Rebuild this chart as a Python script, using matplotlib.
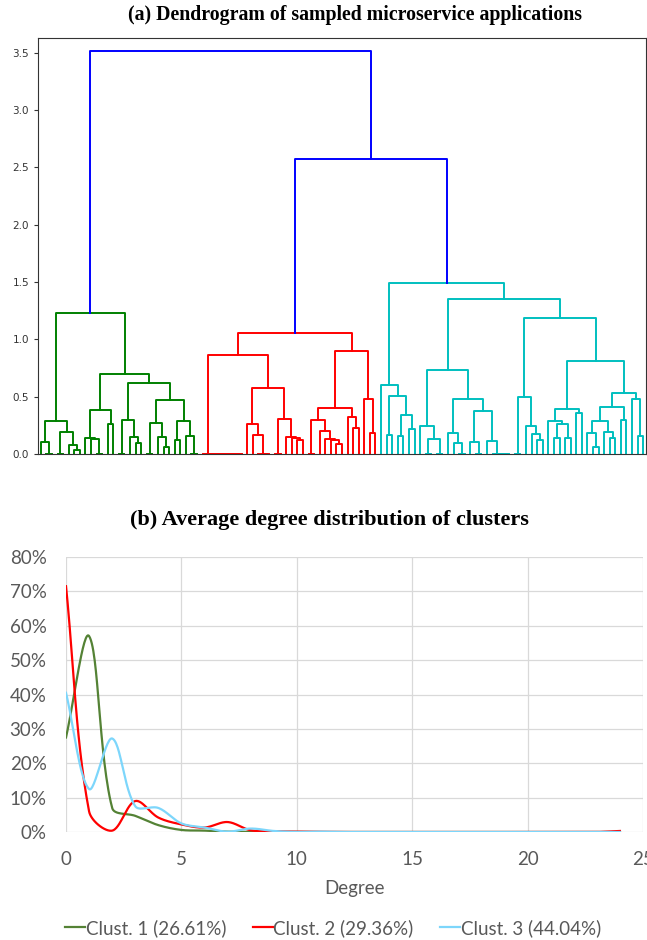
import numpy as np
import matplotlib
matplotlib.use('Agg')
import matplotlib.pyplot as plt
from matplotlib.ticker import PercentFormatter

# ---- (a) dendrogram: merge heights, node = (height, left, right), leaf = o
o = None

green_tree = (1.23,
    (0.29,
        (0.107, o, (0, o, o)),
        (0.19, (0, o, o), (0.076, o, (0.035, o, o)))),
    (0.70,
        (0.38,
            (0.137, o, (0.128, o, (0, o, o))),
            (0.26, o, o)),
        (0.62,
            (0.30, (0, o, o), (0.15, o, (0.10, o, o))),
            (0.47,
                (0.27, (0, o, o), (0.145, o, (0.064, o, o))),
                (0.29, (0.12, o, o), (0.16, o, (0, o, o)))))))

red_tree = (1.06,
    (0.86,
        (0, o, (0, o, (0, o, (0, o, (0, o, (0, o, (0, o, o))))))),
        (0.58,
            (0.26, o, (0.166, o, (0, o, (0, o, o)))),
            (0.305, (0, o, o), (0.145, o, (0.137, o, (0.122, o, o)))))),
    (0.90,
        (0.40,
            (0.30, (0, o, o), (0.20, o, (0.13, o, (0.12, o, (0.09, o, o))))),
            (0.32, o, (0.23, o, o))),
        (0.48, o, (0.18, o, o))))

cyan_tree = (1.495,
    (0.60, o,
        (0.506, (0.17, o, o),
            (0.34, (0.157, o, o), (0.215, o, o)))),
    (1.35,
        (0.733,
            (0.24, o, (0.128, (0, o, o), (0, o, o))),
            (0.477,
                (0.18, o, (0.093, o, (0, o, o))),
                (0.378,
                    (0.107, o, (0, o, o)),
                    (0.113, o, (0, o, (0, o, (0, o, o))))))),
        (1.19,
            (0.50, (0, o, o),
                (0.247, o, (0.175, o, (0.122, o, o)))),
            (0.81,
                (0.39,
                    (0.29, o, (0.26, (0.142, o, o), (0.142, o, o))),
                    (0.355, o, o)),
                (0.535,
                    (0.41,
                        (0.29,
                            (0.186, o, (0.064, o, o)),
                            (0.195, o, (0.142, o, o))),
                        (0.30, o, o)),
                    (0.477, o, (0.157, o, o)))))))

red_cyan_height = 2.57
top_height = 3.52
n_leaves = 109

# ---- (b) average degree distribution (%)
degrees = [0, 1, 2, 3, 4, 5, 6, 7, 8, 9, 10, 11, 12,
           13, 14, 15, 16, 17, 18, 19, 20, 21, 22, 23, 24]
clust1 = [27.5, 57.0, 7.0, 4.7, 2.0, 0.6, 0.4, 0.1, 0.05, 0, 0, 0, 0,
          0, 0, 0, 0, 0, 0, 0, 0, 0, 0, 0, 0]
clust2 = [71.5, 6.0, 0.4, 9.0, 4.2, 2.2, 1.3, 2.9, 0.5, 0.2, 0.1, 0.05, 0,
          0, 0, 0, 0, 0, 0, 0, 0, 0, 0, 0, 0.3]
clust3 = [40.5, 12.5, 27.2, 7.5, 7.0, 2.5, 1.3, 0.1, 1.0, 0.3, 0, 0.1, 0,
          0, 0, 0, 0, 0, 0, 0, 0, 0, 0, 0, 0]
labels = ['Clust. 1 (26.61%)', 'Clust. 2 (29.36%)', 'Clust. 3 (44.04%)']
colors = ['#548235', '#ff0000', '#7dd6fb']


def draw(ax, node, color, pos):
    if node is None:
        x = 5 + 10 * pos[0]
        pos[0] += 1
        return x, 0.0
    h, left, right = node
    xl, hl = draw(ax, left, color, pos)
    xr, hr = draw(ax, right, color, pos)
    ax.plot([xl, xl, xr, xr], [hl, h, h, hr], color=color, lw=1.4)
    return (xl + xr) / 2, h


def smooth(x, y, sx=23.1, sy=3.44, n=30):
    # excel-like smoothed line: bezier through the points, tangents split
    # by neighbouring segment lengths (measured in screen pixels)
    p = np.column_stack([np.array(x) * sx, np.array(y) * sy]).astype(float)
    p = np.vstack([p[0], p, p[-1]])
    d = np.r_[np.hypot(*np.diff(p, axis=0).T), 0]
    t = np.linspace(0, 1, n)[:, None]
    out = []
    for i in range(1, len(p) - 2):
        p0, p1, p2, p3 = p[i - 1], p[i], p[i + 1], p[i + 2]
        d01, d12, d23 = d[i - 1], d[i], d[i + 1]
        c1 = p1 + (p2 - p0) * (d12 / max(d01 + d12, 1e-9)) / 3
        c2 = p2 - (p3 - p1) * (d12 / max(d12 + d23, 1e-9)) / 3
        seg = ((1 - t) ** 3) * p1 + 3 * ((1 - t) ** 2) * t * c1 \
            + 3 * (1 - t) * t ** 2 * c2 + t ** 3 * p2
        out.append(seg)
    out = np.vstack(out)
    return out[:, 0] / sx, out[:, 1] / sy


fig = plt.figure(figsize=(6.47, 9.40), dpi=100)

# dendrogram
ax1 = fig.add_axes([38 / 647, 1 - 454 / 940, 608 / 647, 416 / 940])
pos = [0]
xg, hg = draw(ax1, green_tree, 'g', pos)
xr, hr = draw(ax1, red_tree, 'r', pos)
xc, hc = draw(ax1, cyan_tree, 'c', pos)
ax1.plot([xr, xr, xc, xc], [hr, red_cyan_height, red_cyan_height, hc], color='b', lw=1.4)
xm = (xr + xc) / 2
ax1.plot([xg, xg, xm, xm], [hg, top_height, top_height, red_cyan_height], color='b', lw=1.4)
ax1.set_xlim(0, 10 * n_leaves)
ax1.set_ylim(0, 3.63)
ax1.set_yticks([0, 0.5, 1.0, 1.5, 2.0, 2.5, 3.0, 3.5])
ax1.set_xticks([])
ax1.tick_params(axis='y', labelsize=7.5, length=3, colors='#333333')
for s in ax1.spines.values():
    s.set_color('#333333')
    s.set_linewidth(0.8)
fig.text(355 / 647, 1 - 15 / 940, '(a) Dendrogram of sampled microservice applications',
         ha='center', va='center', family='Liberation Serif', weight='bold', fontsize=14.3)

# degree distribution
ax2 = fig.add_axes([66 / 647, 1 - 832 / 940, 577 / 647, 275 / 940])
for vals, lab, col in zip([clust1, clust2, clust3], labels, colors):
    sx, sy = smooth(degrees, vals)
    ax2.plot(sx, np.array(sy) / 100, color=col, lw=1.6, label=lab)
ax2.set_xlim(0, 25)
ax2.set_ylim(0, 0.8)
ax2.set_xticks([0, 5, 10, 15, 20, 25])
ax2.set_yticks(np.arange(0, 0.81, 0.1))
ax2.yaxis.set_major_formatter(PercentFormatter(1.0, decimals=0))
ax2.grid(True, color='#d9d9d9', lw=0.9)
ax2.set_axisbelow(True)
for s in ax2.spines.values():
    s.set_visible(False)
ax2.tick_params(length=0, labelsize=13.5, colors='#595959', pad=14)
for t in ax2.get_xticklabels() + ax2.get_yticklabels():
    t.set_family('Lato')
ax2.set_xlabel('Degree', family='Lato', fontsize=13.5, color='#595959', labelpad=8)
ax2.legend(loc='upper center', bbox_to_anchor=(0.463, -0.255), ncol=3, frameon=False,
           prop={'family': 'Lato', 'size': 13.5}, labelcolor='#595959',
           handlelength=1.05, handletextpad=0.05, columnspacing=1.4)
fig.text(329 / 647, 1 - 520 / 940, '(b) Average degree distribution of clusters',
         ha='center', va='center', family='Liberation Serif', weight='bold', fontsize=16)

fig.savefig('out.png', dpi=100)
